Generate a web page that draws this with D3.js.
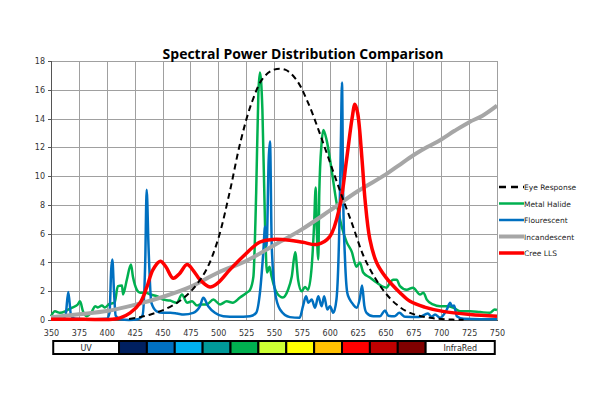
<!DOCTYPE html>
<html lang="en">
<head>
<meta charset="utf-8" />
<title>Spectral Power Distribution Comparison</title>
<style>
  body { margin: 0; background: #fff; }
  .tick text { font: 8px "DejaVu Sans", sans-serif; fill: #333; }
  .axis path, .axis line { stroke: #555; shape-rendering: crispEdges; }
  .grid line { stroke: #a0a0a0; shape-rendering: crispEdges; }
  .grid path { display: none; }
  .legend text { font: 7.5px "DejaVu Sans", sans-serif; fill: #222; }
  .band text { font: 8px "DejaVu Sans", sans-serif; fill: #222; text-anchor: middle; }
</style>
</head>
<body>
<div id="chart"></div>
<script src="https://cdnjs.cloudflare.com/ajax/libs/d3/7.8.5/d3.min.js"></script>
<script>
// ---- data ----
var xTicks = [350,375,400,425,450,475,500,525,550,575,600,625,650,675,700,725,750];
var yTicks = [0,2,4,6,8,10,12,14,16,18];

var seriesNames = ['Eye Response','Metal Halide','Flourescent','Incandescent','Cree LLS'];

var eyeNm  = [420,430,440,450,460,470,480,490,500,510,520,530,540,550,560,570,580,590,600,610,620,630,640,650,660,670,680,690,700,710,720];
var eyeVal = [0.07,0.2,0.4,0.67,1.05,1.6,2.4,3.6,5.65,8.8,12.4,15.1,16.8,17.4,17.4,16.7,15.2,13.2,11.0,8.8,6.7,4.5,3.0,1.87,1.07,0.56,0.3,0.15,0.07,0.03,0.01];

var mhNm  = [350,353.6,358,362.6,365,369,374,376,378.7,382,386.8,389.5,392,395.7,398.4,402,407,410,413.7,414.6,418,421.7,423.5,427,430,435,439,445,450.4,456.7,462.7,467.5,472,476.5,481,483.6,489.6,495.6,501.6,507.6,513,519.5,525.5,528.5,531.5,534,536,537.4,539.6,542,543.7,546,547.9,552.4,558,562.6,565.9,569,571.6,574.8,577.8,580.5,583.8,585.9,587.4,588.3,589.7,590.6,592.7,594.2,597.2,601.7,606,610.7,615,619.7,624,627,630,636,642,648,651,654,656.7,660,663,669,674.7,681,684,687,692.6,699,705,710.6,716.8,725.8,734.8,743.7,748,750];
var mhVal = [0.26,0.6,0.5,0.6,0.7,0.86,1.08,1.3,0.6,0.26,0.6,0.96,0.87,1.0,0.87,1.1,1.2,2.35,2.4,1.77,2.8,3.85,3.0,2.1,1.9,1.9,1.77,1.65,1.42,1.35,1.2,1.77,1.2,1.3,1.0,1.08,1.08,1.42,1.08,1.3,1.2,1.56,1.9,2.1,3.0,8.8,15.8,17.2,14.6,6.5,3.3,3.7,3.0,1.9,1.56,2.1,3.0,4.7,2.8,2.0,2.3,2.1,3.7,6.5,9.2,6.5,4.2,8.8,12.3,13.2,12.5,10.4,8.2,6.5,5.45,4.75,3.7,4.0,3.3,2.95,2.6,2.3,2.25,2.6,2.8,2.8,2.35,2.1,2.25,1.77,1.9,1.42,1.08,0.96,0.96,0.87,0.6,0.6,0.55,0.5,0.73,0.7];

var flNm  = [350,355,360,363,365.5,368,372,380,390,400,402.5,404,405,406.5,408,412,420,428,432,434.5,435.8,437.5,440,444.8,450,457,463,469,477.6,483.6,486.6,491,497,504.5,516.5,528.5,534,537.4,540.4,542,543.4,545.2,546.4,548,551,555.4,564.3,573,576,578.7,580.8,583.8,586.8,589.7,592.7,595,597.8,600.2,603.2,606,608.6,610,611,612,613.7,615.7,618,621,624,627,629,631,633,639,645,649.5,652.5,658,662.4,667.5,680,688,691.4,694.4,699,705,708,709.5,711.5,714,720,735,750];
var flVal = [0.1,0.08,0.1,0.3,1.95,0.3,0.08,0.05,0.05,0.08,0.5,3.5,4.2,2.0,0.3,0.05,0.0,0.05,0.3,4.0,9.05,5.0,1.2,0.6,0.5,0.5,0.45,0.38,0.5,0.96,1.54,0.96,0.5,0.26,0.22,0.26,0.5,1.9,4.7,6.5,5.1,11.1,12.4,5.1,1.9,0.73,0.2,0.15,0.96,1.65,1.2,1.42,0.85,1.65,0.96,1.65,0.73,0.96,0.5,1.42,6.5,12.5,16.5,8.8,4.2,1.9,1.42,1.08,0.85,1.5,2.4,1.0,0.5,0.26,0.26,0.66,0.3,0.26,0.5,0.22,0.2,0.45,0.22,0.38,0.15,0.73,1.2,0.96,1.0,0.26,0.08,0.05,0.05];

var incNm  = [350,375,400,425,450,475,500,525,550,575,600,625,650,662,675,687,700,712,725,737,750];
var incVal = [0.2,0.4,0.62,1.05,1.6,2.3,3.3,4.1,5.2,6.3,7.6,8.95,10.1,10.75,11.45,12.0,12.55,13.15,13.75,14.2,14.9];

var creeNm  = [350,380,405,412,421,430,436,441.5,448,453,459.6,465,472,478,483.6,492.6,500,510.5,522,537,549,564,576,588.6,600,609,615,620,622.6,625,629,631.6,636,642,650,663,672,685,701.5,726,750];
var creeVal = [0.05,0.05,0.05,0.15,0.5,1.2,2.3,3.5,4.08,3.7,2.9,3.2,3.85,3.4,2.8,2.3,2.6,3.5,4.4,5.4,5.6,5.55,5.4,5.25,5.8,7.9,11.1,14.0,15.0,14.4,11.1,8.4,5.6,4.0,3.0,1.9,1.3,0.9,0.6,0.38,0.26];

// colour band table under the axis (nm edges)
var bandLabels = ['UV','','','','','','','','','','','','InfraRed'];
var bandEdges  = [352,411,436,461,486,511,536,561,586,611,636,661,686,748];
var bandColors = ['#ffffff','#002060','#0070c0','#00b0f0','#009999','#00b050','#ccff33','#ffff00','#ffc000','#ff0000','#c00000','#800000','#ffffff'];

// ---- chart ----
var W = 600, H = 399;
var svg = d3.select('#chart').append('svg')
  .attr('width', W).attr('height', H)
  .style('background', '#fff');

var x = d3.scaleLinear().domain([350, 750]).range([51, 497]);
var y = d3.scaleLinear().domain([0, 18]).range([320, 61]);

// grid
svg.append('g').attr('class', 'grid')
  .attr('transform', 'translate(0,61)')
  .call(d3.axisBottom(x).tickValues(xTicks).tickSize(259).tickFormat(''));
svg.append('g').attr('class', 'grid')
  .attr('transform', 'translate(51,0)')
  .call(d3.axisRight(y).tickValues(yTicks).tickSize(446).tickFormat(''));

// axes
svg.append('g').attr('class', 'axis')
  .attr('transform', 'translate(51,0)')
  .call(d3.axisLeft(y).tickValues(yTicks).tickSize(3).tickPadding(3));
svg.append('g').attr('class', 'axis')
  .attr('transform', 'translate(0,320)')
  .call(d3.axisBottom(x).tickValues(xTicks).tickSize(0).tickPadding(10));

// title
svg.append('text')
  .attr('x', 303).attr('y', 59)
  .attr('text-anchor', 'middle')
  .style('font', 'bold 14px "Open Sans", sans-serif')
  .text('Spectral Power Distribution Comparison');

function pts(nm, v) { return nm.map(function(d, i) { return [d, v[i]]; }); }

var spiky = d3.line().x(function(d){ return x(d[0]); }).y(function(d){ return y(d[1]); })
  .curve(d3.curveMonotoneX);
var smooth = d3.line().x(function(d){ return x(d[0]); }).y(function(d){ return y(d[1]); })
  .curve(d3.curveCatmullRom.alpha(0.5));

var styles = {
  'Eye Response': { color: '#000', width: 2, dash: '6,4' },
  'Metal Halide': { color: '#00b050', width: 2.5 },
  'Flourescent':  { color: '#0070c0', width: 2.5 },
  'Incandescent': { color: '#a6a6a6', width: 4 },
  'Cree LLS':     { color: '#ff0000', width: 3.5 }
};

var plot = svg.append('g');
plot.append('path').datum(pts(mhNm, mhVal)).attr('d', spiky)
  .attr('fill', 'none').attr('stroke', styles['Metal Halide'].color).attr('stroke-width', 2.5).attr('stroke-linejoin', 'round');
plot.append('path').datum(pts(flNm, flVal)).attr('d', spiky)
  .attr('fill', 'none').attr('stroke', styles['Flourescent'].color).attr('stroke-width', 2.5).attr('stroke-linejoin', 'round');
plot.append('path').datum(pts(incNm, incVal)).attr('d', smooth)
  .attr('fill', 'none').attr('stroke', styles['Incandescent'].color).attr('stroke-width', 4);
plot.append('path').datum(pts(creeNm, creeVal)).attr('d', smooth)
  .attr('fill', 'none').attr('stroke', styles['Cree LLS'].color).attr('stroke-width', 3.5);
plot.append('path').datum(pts(eyeNm, eyeVal)).attr('d', smooth)
  .attr('fill', 'none').attr('stroke', '#000').attr('stroke-width', 2).attr('stroke-dasharray', '6,4');

// legend
var legend = svg.append('g').attr('class', 'legend');
seriesNames.forEach(function(name, i) {
  var s = styles[name], ly = 187 + i * 16.5;
  legend.append('line')
    .attr('x1', 499).attr('x2', 524).attr('y1', ly).attr('y2', ly)
    .attr('stroke', s.color).attr('stroke-width', name === 'Eye Response' ? 2.5 : s.width)
    .attr('stroke-dasharray', s.dash ? '7,5' : null);
  legend.append('text').attr('x', 524).attr('y', ly + 3).text(name);
});

// colour band
var band = svg.append('g').attr('class', 'band');
bandColors.forEach(function(c, i) {
  var x0 = x(bandEdges[i]), x1 = x(bandEdges[i + 1]);
  band.append('rect')
    .attr('x', x0).attr('y', 341).attr('width', x1 - x0).attr('height', 13)
    .attr('fill', c).attr('stroke', '#000').attr('stroke-width', 2);
  if (bandLabels[i]) {
    band.append('text').attr('x', (x0 + x1) / 2).attr('y', 350.5).text(bandLabels[i]);
  }
});
</script>
</body>
</html>
